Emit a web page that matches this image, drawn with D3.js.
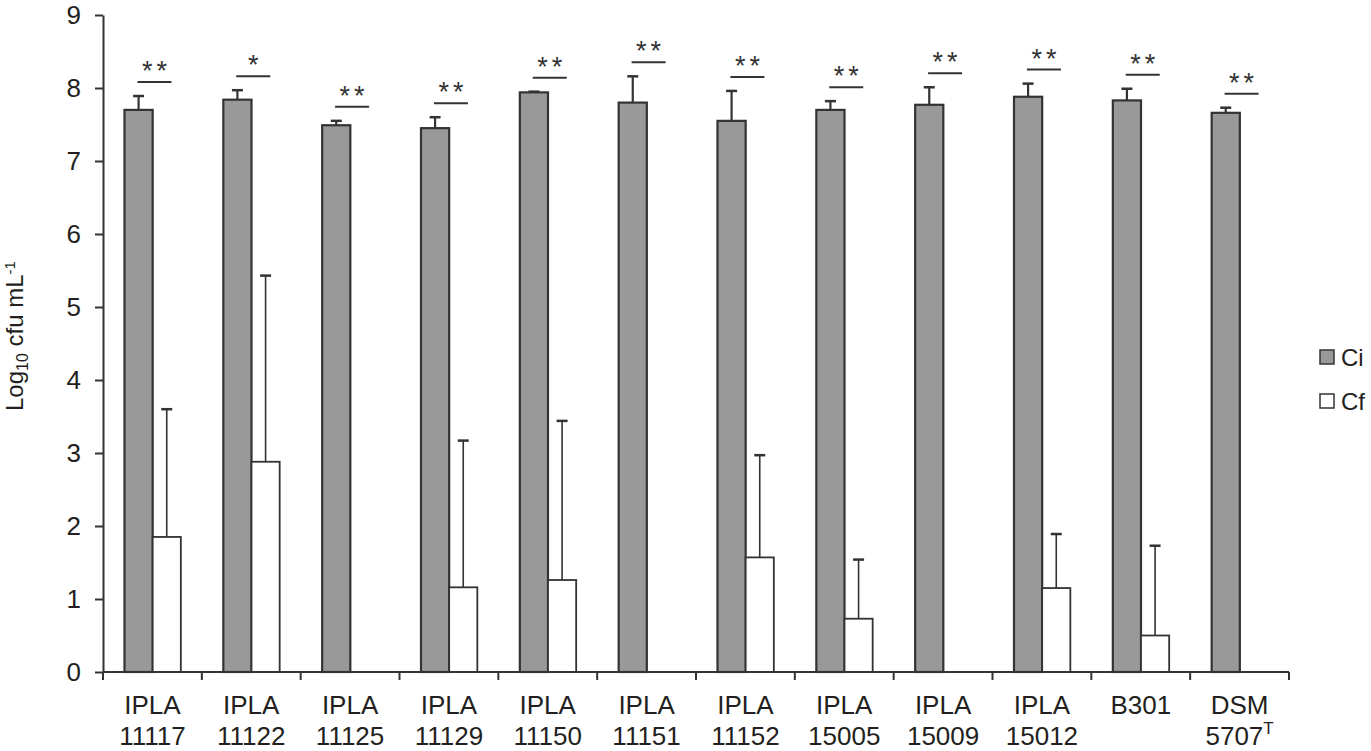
<!DOCTYPE html>
<html>
<head>
<meta charset="utf-8">
<script src="https://d3js.org/d3.v7.min.js"></script>
<style>
  body { margin: 0; background: #fff; }
  text { font-family: "Liberation Sans", Arial, sans-serif; fill: #231f20; }
</style>
</head>
<body>
<div class="viz"></div>
<script>
// strains on the x axis (two text lines each)
const strains = ["IPLA 11117", "IPLA 11122", "IPLA 11125", "IPLA 11129", "IPLA 11150", "IPLA 11151",
                 "IPLA 11152", "IPLA 15005", "IPLA 15009", "IPLA 15012", "B301", "DSM 5707"];
const labelTop = ["IPLA", "IPLA", "IPLA", "IPLA", "IPLA", "IPLA", "IPLA", "IPLA", "IPLA", "IPLA", "B301", "DSM"];
const labelBottom = ["11117", "11122", "11125", "11129", "11150", "11151", "11152", "15005", "15009", "15012", "", "5707"];

// Log10 cfu/mL, initial (Ci) and final (Cf) counts with SD
const ciValues = [7.70, 7.84, 7.49, 7.45, 7.94, 7.80, 7.55, 7.70, 7.77, 7.88, 7.83, 7.66];
const ciSD     = [0.19, 0.13, 0.06, 0.15, 0.01, 0.36, 0.41, 0.12, 0.24, 0.18, 0.16, 0.07];
const cfValues = [1.85, 2.88, 0, 1.16, 1.26, 0, 1.57, 0.73, 0, 1.15, 0.50, 0];
const cfSD     = [1.75, 2.55, 0, 2.01, 2.18, 0, 1.40, 0.81, 0, 0.74, 1.23, 0];

const signif = ["**", "*", "**", "**", "**", "**", "**", "**", "**", "**", "**", "**"];

const yTicks = [0, 1, 2, 3, 4, 5, 6, 7, 8, 9];
const series = ["Ci", "Cf"];

const margin = { top: 15, bottom: 79, left: 103, right: 82 };
const width = 1371 - margin.left - margin.right;
const height = 751 - margin.top - margin.bottom;

const fillScale = d3.scaleOrdinal()
    .domain(series)
    .range(["#999999", "#ffffff"]);

const svg = d3.select('.viz')
    .append('svg')
    .attr('width', width + margin.left + margin.right)
    .attr('height', height + margin.top + margin.bottom)
    .append('g')
    .attr('transform', `translate(${margin.left},${margin.top})`);

/* SCALES */
const x = d3.scaleBand()
    .domain(strains)
    .range([0, width]);

const x1 = d3.scaleBand()
    .domain(series)
    .range([21.5, x.bandwidth() - 21]);

const y = d3.scaleLinear()
    .domain([0, 9])
    .range([height, 0]);

// rows for the bars
const rows = strains.map(function(s, i) {
    return {
        strain: s,
        top: labelTop[i],
        bottom: labelBottom[i],
        sig: signif[i],
        bars: [
            { key: "Ci", value: ciValues[i], sd: ciSD[i] },
            { key: "Cf", value: cfValues[i], sd: cfSD[i] }
        ]
    };
});

/* Y AXIS */
const yAxis = svg.append("g")
    .call(d3.axisLeft(y)
        .tickValues(yTicks)
        .tickSize(8)
        .tickSizeOuter(0)
        .tickPadding(14));

yAxis.selectAll("path, line").attr("stroke", "#333").attr("stroke-width", 2);
yAxis.selectAll("text")
    .style("font-size", "26px")
    .style("font-family", "'Liberation Sans', Arial, sans-serif")
    .attr("fill", "#231f20");

/* BARS */
const groups = svg.selectAll("g.strain")
    .data(rows)
    .enter()
    .append("g")
    .attr("class", "strain")
    .attr("transform", function(d) { return `translate(${x(d.strain)},0)`; });

groups.selectAll("rect")
    .data(function(d) { return d.bars.filter(function(b) { return b.value > 0; }); })
    .enter()
    .append("rect")
    .attr("x", function(d) { return x1(d.key); })
    .attr("y", function(d) { return y(d.value); })
    .attr("width", x1.bandwidth())
    .attr("height", function(d) { return height - y(d.value); })
    .style("fill", function(d) { return fillScale(d.key); })
    .style("stroke", "#333")
    .style("stroke-width", function(d) { return d.key == "Ci" ? 2.2 : 1.8; });

// error bars (upper only)
const capW = 11;
const errs = groups.selectAll("g.err")
    .data(function(d) { return d.bars.filter(function(b) { return b.sd > 0; }); })
    .enter()
    .append("g")
    .attr("class", "err");

errs.append("line")
    .attr("x1", function(d) { return x1(d.key) + x1.bandwidth() / 2; })
    .attr("x2", function(d) { return x1(d.key) + x1.bandwidth() / 2; })
    .attr("y1", function(d) { return y(d.value); })
    .attr("y2", function(d) { return y(d.value + d.sd); })
    .attr("stroke", "#333")
    .attr("stroke-width", function(d) { return d.key == "Ci" ? 2.2 : 1.6; });

errs.append("line")
    .attr("x1", function(d) { return x1(d.key) + x1.bandwidth() / 2 - capW / 2; })
    .attr("x2", function(d) { return x1(d.key) + x1.bandwidth() / 2 + capW / 2; })
    .attr("y1", function(d) { return y(d.value + d.sd); })
    .attr("y2", function(d) { return y(d.value + d.sd); })
    .attr("stroke", "#333")
    .attr("stroke-width", 2.5);

// significance lines and stars, above the Ci error bar
function sigY(d) {
    return y(d.bars[0].value + d.bars[0].sd) - 14;
}

groups.append("line")
    .attr("x1", x.bandwidth() / 2 + 2 - 17)
    .attr("x2", x.bandwidth() / 2 + 2 + 17)
    .attr("y1", sigY)
    .attr("y2", sigY)
    .attr("stroke", "#333")
    .attr("stroke-width", 2);

groups.append("text")
    .attr("x", x.bandwidth() / 2 + 4)
    .attr("y", function(d) { return sigY(d) - 2; })
    .attr("text-anchor", "middle")
    .style("font-size", "27px")
    .style("letter-spacing", "4px")
    .style("fill", "#333")
    .text(function(d) { return d.sig; });

/* X AXIS */
svg.append("line")
    .attr("x1", 0)
    .attr("x2", width)
    .attr("y1", height)
    .attr("y2", height)
    .attr("stroke", "#333")
    .attr("stroke-width", 2);

// boundary ticks between strains
svg.selectAll("line.xtick")
    .data(strains.concat(["end"]))
    .enter()
    .append("line")
    .attr("class", "xtick")
    .attr("x1", function(d, i) { return i * x.step(); })
    .attr("x2", function(d, i) { return i * x.step(); })
    .attr("y1", height)
    .attr("y2", height + 8)
    .attr("stroke", "#333")
    .attr("stroke-width", 2);

const xlab = groups.append("text")
    .attr("text-anchor", "middle")
    .style("font-size", "26px");

xlab.append("tspan")
    .attr("x", x.bandwidth() / 2)
    .attr("y", height + 42)
    .text(function(d) { return d.top; });

xlab.append("tspan")
    .attr("x", x.bandwidth() / 2)
    .attr("y", height + 73)
    .text(function(d) { return d.bottom; })
    .filter(function(d) { return d.strain == "DSM 5707"; })
    .append("tspan")
    .attr("dy", -11)
    .style("font-size", "17px")
    .text("T");

/* Y LABEL */
const ylab = svg.append("text")
    .attr("transform", `translate(${23 - margin.left},${411 - margin.top}) rotate(-90)`)
    .attr("x", 0)
    .attr("y", 0)
    .attr("text-anchor", "start")
    .style("font-size", "24px");

ylab.append("tspan").text("Log");
ylab.append("tspan").attr("dy", 5).style("font-size", "16px").text("10");
ylab.append("tspan").attr("dy", -5).text(" cfu mL");
ylab.append("tspan").attr("dy", -8).style("font-size", "15px").text("-1");

/* LEGEND */
const legend = svg.selectAll("g.legend")
    .data(series)
    .enter()
    .append("g")
    .attr("class", "legend")
    .attr("transform", function(d, i) {
        return `translate(${1320 - margin.left},${350 - margin.top + i * 44})`;
    });

legend.append("rect")
    .attr("width", 14)
    .attr("height", 14)
    .style("fill", function(d) { return fillScale(d); })
    .style("stroke", "#333")
    .style("stroke-width", 1.5);

legend.append("text")
    .attr("x", 21)
    .attr("y", 16)
    .style("font-size", "24px")
    .text(function(d) { return d; });
</script>
</body>
</html>
